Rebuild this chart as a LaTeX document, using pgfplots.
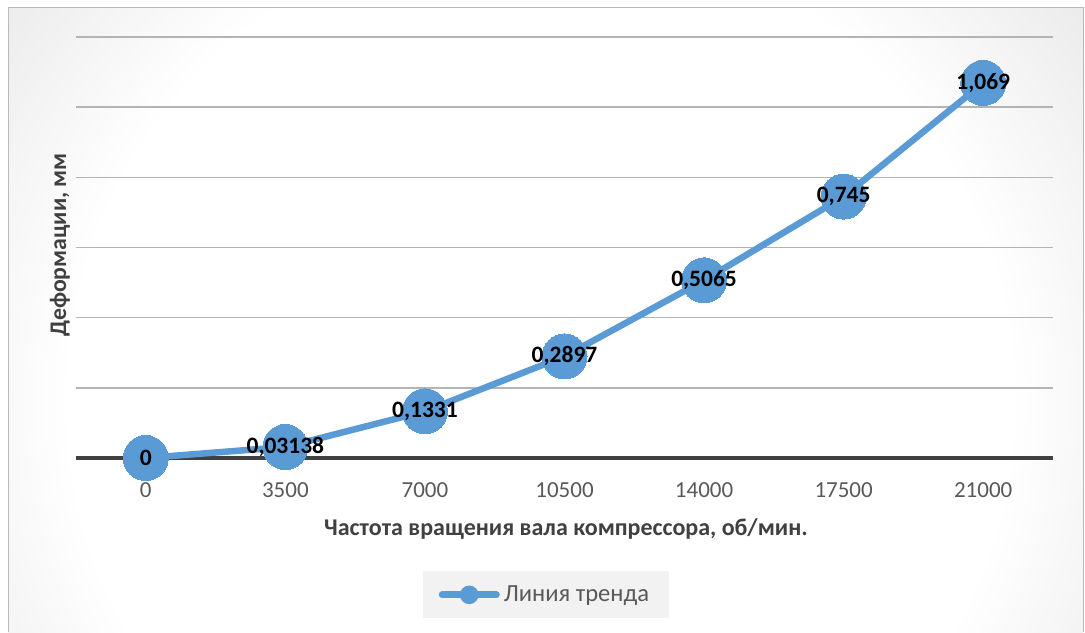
\documentclass[border=0pt]{standalone}
\usepackage{pgfplots}
\pgfplotsset{compat=1.18}
\usepackage{fontspec}
\setmainfont{Carlito}

\definecolor{bgGray}{RGB}{192,192,192}
\definecolor{bgMid}{RGB}{224,224,224}
\definecolor{lineBlue}{RGB}{91,155,213}
\definecolor{gridGray}{RGB}{180,180,180}
\definecolor{axisDark}{RGB}{64,64,64}
\definecolor{tickGray}{RGB}{89,89,89}
\definecolor{titleGray}{RGB}{64,64,64}
\definecolor{legendFill}{RGB}{242,242,242}

% soft radial glow for the chart area
\pgfdeclareradialshading{bgglow}{\pgfpointorigin}{color(0bp)=(white); color(21bp)=(white); color(35bp)=(bgMid); color(50bp)=(bgGray)}

\begin{document}
\begin{tikzpicture}[x=0.5pt,y=0.5pt]
\useasboundingbox (0,0) rectangle (1085,632);
\fill[white] (0,0) rectangle (1085,632);
\begin{scope}
  \clip (8,0) rectangle (1083,624);
  \fill[bgGray] (8,0) rectangle (1083,624);
  \shade[shading=bgglow] (-20,-328) rectangle (1100,792);
\end{scope}
\draw[gray!55, line width=0.5pt] (8,0) -- (8,624) -- (1083,624) -- (1083,0);

\begin{axis}[
  at={(38pt,87pt)}, anchor=south west,
  scale only axis, width=488.5pt, height=210.5pt,
  xmin=-0.5, xmax=6.5, ymin=0, ymax=1.2,
  clip=false,
  axis line style={draw=none},
  major tick length=0pt,
  xtick={0,1,2,3,4,5,6},
  xticklabels={0,3500,7000,10500,14000,17500,21000},
  ytick={0.2,0.4,0.6,0.8,1.0,1.2},
  yticklabels={},
  ymajorgrids,
  grid style={gridGray, line width=0.75pt},
  xticklabel style={anchor=center, yshift=-16pt, font=\fontsize{11.5}{13}\selectfont, text=tickGray},
  xlabel={Частота вращения вала компрессора, об/мин.},
  ylabel={Деформации, мм},
  xlabel style={at={(axis description cs:0.5015,-0.1686)}, anchor=center,
    font=\bfseries\fontsize{12}{14}\selectfont, text=titleGray},
  ylabel style={at={(axis description cs:-0.0164,0.506)}, anchor=center,
    font=\bfseries\fontsize{11.9}{14}\selectfont, text=titleGray},
  legend style={at={(0.481,-0.325)}, anchor=center, fill=legendFill, draw=none,
    inner xsep=8pt, inner ysep=5pt,
    font=\fontsize{12.3}{14}\selectfont, text=tickGray},
  legend image code/.code={
    \draw[line width=3.5pt, line cap=round, lineBlue] (0pt,0pt) -- (27pt,0pt);
    \fill[lineBlue] (13.5pt,0pt) circle (3pt);
  },
  nodes near coords,
  point meta=explicit symbolic,
  nodes near coords align={center},
  every node near coord/.append style={anchor=center, text=black,
    font=\bfseries\fontsize{11.75}{14}\selectfont},
]
\draw[axisDark, line width=2pt] (axis cs:-0.5,0) -- (axis cs:6.5,0);
\addplot[lineBlue, line width=3.25pt, mark=*, mark size=11.25pt,
  mark options={fill=lineBlue, draw=lineBlue, line width=0pt}]
  table[x=x, y=y, meta=lab] {
x y lab
0 0 0
1 0.03138 0,03138
2 0.1331 0,1331
3 0.2897 0,2897
4 0.5065 0,5065
5 0.745 0,745
6 1.069 1,069
};
\addlegendentry{Линия тренда}
\end{axis}
\end{tikzpicture}
\end{document}
